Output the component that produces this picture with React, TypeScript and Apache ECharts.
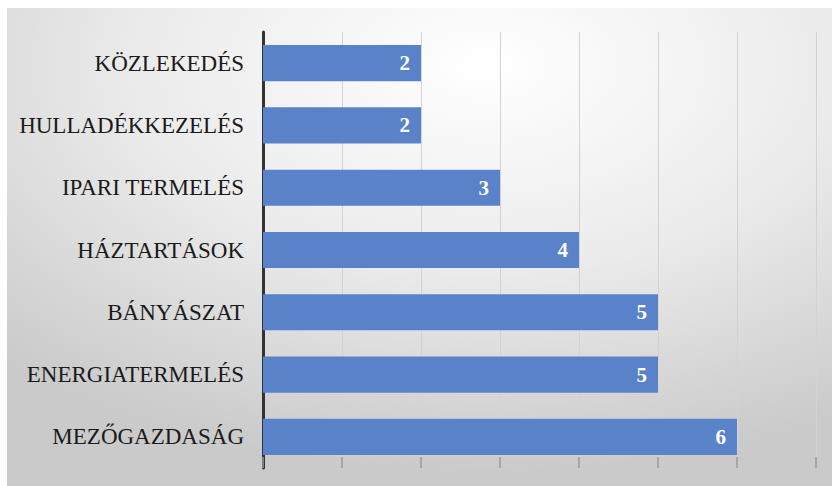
import React, { useEffect, useRef } from "react";
import * as echarts from "echarts";

const categories = [
  "KÖZLEKEDÉS",
  "HULLADÉKKEZELÉS",
  "IPARI TERMELÉS",
  "HÁZTARTÁSOK",
  "BÁNYÁSZAT",
  "ENERGIATERMELÉS",
  "MEZŐGAZDASÁG",
];
const values = [2, 2, 3, 4, 5, 5, 6];

export default function App() {
  const ref = useRef<HTMLDivElement>(null);
  useEffect(() => {
    const chart = echarts.init(ref.current!, null, { renderer: "svg" });
    chart.setOption({
      animation: false,
      graphic: [
        {
          type: "rect",
          z: -10,
          silent: true,
          shape: { x: 7, y: 8, width: 825, height: 478 },
          style: {
            fill: new echarts.graphic.RadialGradient(0.58, 0.12, 0.85, [
              { offset: 0, color: "#ffffff" },
              { offset: 0.5, color: "#ebebeb" },
              { offset: 1, color: "#cacaca" },
            ]),
          },
        },
      ],
      grid: { left: 263, right: 16, top: 32, bottom: 18 },
      xAxis: {
        type: "value",
        min: 0,
        max: 7,
        interval: 1,
        axisLine: { show: false },
        axisLabel: { show: false },
        axisTick: {
          show: true,
          inside: true,
          length: 11,
          lineStyle: { color: "#9a9a9a", width: 1.5 },
        },
        splitLine: { show: true, lineStyle: { color: "#d3d3d3", width: 1 } },
      },
      yAxis: {
        type: "category",
        data: categories,
        inverse: true,
        axisLine: { show: true, lineStyle: { color: "#333333", width: 3 } },
        axisTick: { show: false },
        axisLabel: {
          color: "#1a1a1a",
          fontFamily: "Liberation Serif",
          fontSize: 23,
          margin: 19,
        },
      },
      series: [
        {
          type: "bar",
          data: values,
          barCategoryGap: "42%",
          itemStyle: { color: "#5a82c9" },
          label: {
            show: true,
            position: "insideRight",
            distance: 11,
            color: "#ffffff",
            fontFamily: "Liberation Serif",
            fontWeight: "bold",
            fontSize: 21,
          },
        },
      ],
    });
    return () => chart.dispose();
  }, []);
  return (
    <div
      ref={ref}
      style={{ position: "absolute", left: 0, top: 0, width: 832, height: 486 }}
    />
  );
}
